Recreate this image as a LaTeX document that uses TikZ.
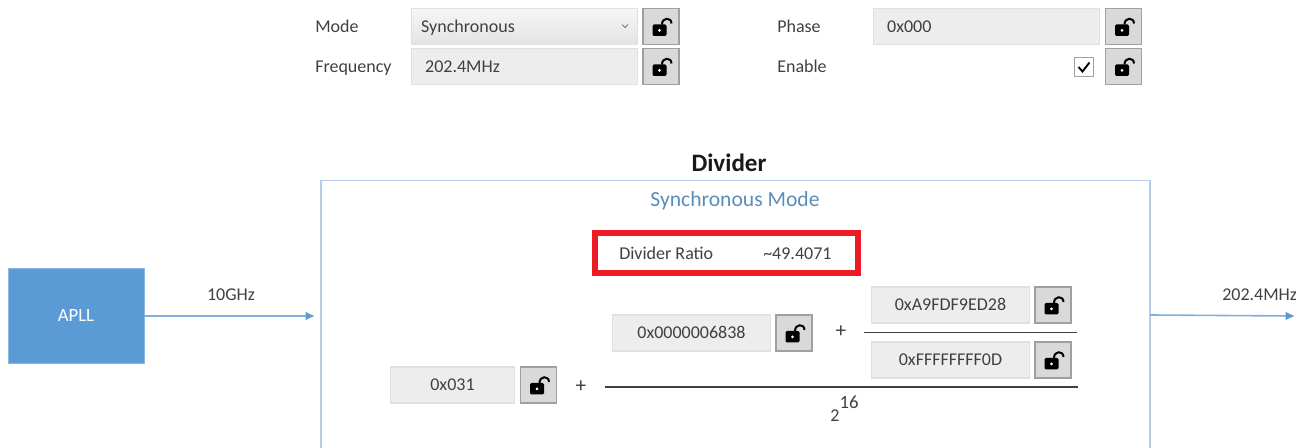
\documentclass[tikz,border=0pt]{standalone}
\usepackage{fontspec}
\setmainfont{Carlito}
\usetikzlibrary{arrows.meta}
\definecolor{txt}{HTML}{404040}
\definecolor{fieldfill}{HTML}{EDEDED}
\definecolor{fieldline}{HTML}{E0E0E0}
\definecolor{lockfill}{HTML}{D9D9D9}
\definecolor{lockline}{HTML}{A0A0A0}
\definecolor{apllblue}{HTML}{5B9BD5}
\definecolor{wireblue}{HTML}{7DB0E0}
\definecolor{boxblue}{HTML}{B4CDE6}
\definecolor{modeblue}{HTML}{5B8DB8}
\definecolor{redframe}{HTML}{ED1C24}
\tikzset{
  x=0.75pt,y=-0.75pt,
  label text/.style={text=txt,inner sep=0pt,font=\fontsize{13.5}{15}\selectfont},
  field/.style={draw=fieldline,fill=fieldfill,line width=0.9pt,minimum height=27pt,inner sep=0pt,text height=12pt,text depth=3pt,text=txt,font=\fontsize{13.5}{15}\selectfont},
  lockbtn/.style={draw=lockline,fill=lockfill,line width=0.9pt,minimum width=27pt,minimum height=27pt,inner sep=0pt},
  wire/.style={draw=wireblue,line width=1.2pt,-{Latex[length=7pt,width=6.5pt,color=apllblue,fill=apllblue]}},
  frac line/.style={draw=txt,line width=1pt},
}
\newcommand{\lockicon}[3]{%
  \node[lockbtn] (#1) at (#2,#3) {};
  \begin{scope}[shift={(#1.center)}]
    \draw[black,line width=1.5pt] (1,-2) .. controls (1,-9.5) and (10.5,-9.5) .. (10.5,-3);
    \fill[black,rounded corners=1pt] (-8.5,-2) rectangle (5.5,9.5);
    \fill[white] (-1.5,3.8) circle (1.5);
  \end{scope}}
\begin{document}
\begin{tikzpicture}
\useasboundingbox (0,0) rectangle (1307,448);
\clip (0,0) rectangle (1295,448);
% top controls
\node[label text,anchor=base west] (lmode) at (315,32.5) {Mode};
\node[label text,anchor=base west] (lfreq) at (315,72.5) {Frequency};
\node[field,minimum width=170pt,text width=155pt,align=left,top color=fieldfill!50!white,bottom color=fieldfill!96!black] (mode) at (524.5,26.5) {Synchronous};
\draw[txt,line width=0.5pt] (622,24.5) -- (625,27.5) -- (628,24.5);
\lockicon{lmodeb}{661}{26.5}
\node[field,minimum width=170pt,text width=149pt,align=left] (freq) at (524.5,66.5) {202.4MHz};
\lockicon{lfreqb}{661}{66.5}
\node[label text,anchor=base west] (lphase) at (777,32.5) {Phase};
\node[label text,anchor=base west] (lenable) at (777,72.5) {Enable};
\node[field,minimum width=170pt,text width=149pt,align=left] (phase) at (986.5,26.5) {0x000};
\lockicon{lphaseb}{1123.5}{26.5}
\node[draw=lockline,fill=white,line width=0.7pt,minimum size=14pt,inner sep=0pt] (check) at (1084,67) {};
\draw[black,line width=1.4pt] (1078.5,67) -- (1082.5,71.5) -- (1089.5,62.5);
\lockicon{lenableb}{1123.5}{66.5}
% divider
\node[inner sep=0pt,font=\fontsize{18.8}{20}\selectfont\bfseries,text=black!90] (title) at (729,163) {Divider};
\draw[draw=boxblue,line width=1pt] (321,460) -- (321,180.5) -- (1150,180.5) -- (1150,460);
\coordinate (divleft) at (315,316);
\coordinate (divright) at (1150,315);
\coordinate (outend) at (1295,316);
\node[inner sep=0pt,text=modeblue,font=\fontsize{16.2}{18}\selectfont] (modetitle) at (735,201) {Synchronous Mode};
\node[draw=redframe,line width=4.5pt,minimum width=197pt,minimum height=30pt,inner sep=0pt] (ratio) at (726.5,253) {};
\node[label text,anchor=base west] (ratiolab) at (619,260) {Divider Ratio};
\node[label text,anchor=base west] (ratioval) at (763,260) {\textasciitilde 49.4071};
% APLL
\node[fill=apllblue,draw=apllblue!70!white,line width=0.6pt,minimum width=102pt,minimum height=71pt,inner sep=0pt,text=white,font=\fontsize{14}{16}\selectfont] (apll) at (76,316) {APLL};
\draw[wire] (apll.east) -- (divleft);
\node[label text,anchor=base] (fin) at (231,301) {10GHz};
\draw[wire] (divright) -- (outend);
\node[label text,anchor=base west] (fout) at (1222,301) {202.4MHz};
% formula
\node[field,minimum width=93pt] (intf) at (452.5,385) {0x031};
\lockicon{lint}{538.5}{385}
\node[label text,font=\fontsize{16}{18}\selectfont] (plus1) at (581,387) {+};
\coordinate (long1) at (605,387);
\coordinate (long2) at (1078,387);
\draw[frac line] (long1) -- (long2);
\node[field,minimum width=119pt] (fracf) at (691.5,333) {0x0000006838};
\lockicon{lfrac}{794}{333}
\node[label text,font=\fontsize{16}{18}\selectfont] (plus2) at (841,332) {+};
\coordinate (short1) at (864,332.5);
\coordinate (short2) at (1077,332.5);
\draw[frac line] (short1) -- (short2);
\node[field,minimum width=119pt] (num) at (950.5,305) {0xA9FDF9ED28};
\lockicon{lnum}{1053}{305}
\node[field,minimum width=119pt] (den) at (950.5,360) {0xFFFFFFFF0D};
\lockicon{lden}{1053}{360}
\node[label text] (two) at (835,416) {2};
\node[label text,font=\fontsize{14}{16}\selectfont] (sixteen) at (849,402) {16};
\end{tikzpicture}
\end{document}
